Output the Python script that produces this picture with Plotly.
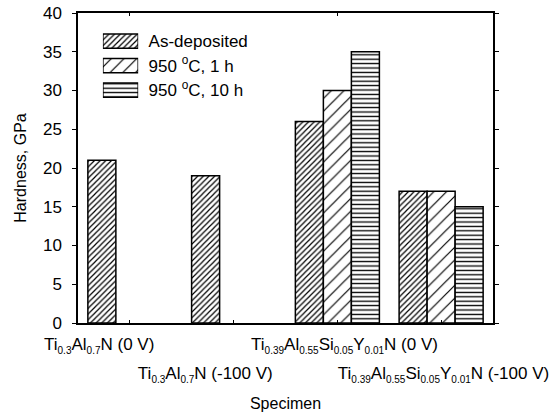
import plotly.graph_objects as go


def sub(s):
    """Small subscript used in the chemical formulas."""
    return f"<sub><span style='font-size:10px'>{s}</span></sub>"


NBSP = "&nbsp;"

# Specimens and hardness values (GPa)
specimens = [
    "Ti0.3Al0.7N (0 V)",
    "Ti0.3Al0.7N (-100 V)",
    "Ti0.39Al0.55Si0.05Y0.01N (0 V)",
    "Ti0.39Al0.55Si0.05Y0.01N (-100 V)",
]
tick_labels = [
    f"Ti{sub('0.3')}Al{sub('0.7')}N (0 V)",
    f"Ti{sub('0.3')}Al{sub('0.7')}N (-100 V)",
    f"Ti{sub('0.39')}Al{sub('0.55')}Si{sub('0.05')}Y{sub('0.01')}N (0 V)",
    f"Ti{sub('0.39')}Al{sub('0.55')}Si{sub('0.05')}Y{sub('0.01')}N (-100 V)",
]
# Padding (in spaces) that nudges each label off its tick: (leading, trailing)
label_pad = [(0, 13), (0, 12), (3, 0), (1, 0)]
series_names = ["As-deposited", "950 <sup>o</sup>C, 1 h", "950 <sup>o</sup>C, 10 h"]
as_deposited = [21, 19, 26, 17]
annealed_1h = [None, None, 30, 17]
annealed_10h = [None, None, 35, 15]
y_ticks = [0, 5, 10, 15, 20, 25, 30, 35, 40]

FONT = "Arial, Liberation Sans, sans-serif"
patterns = [
    dict(shape="/", size=4, solidity=0.3, fgcolor="black", fgopacity=1, bgcolor="white"),
    dict(shape="/", size=9, solidity=0.13, fgcolor="black", fgopacity=1, bgcolor="white"),
    dict(shape="-", size=4.4, solidity=0.3, fgcolor="black", fgopacity=1, bgcolor="white"),
]
series_values = [as_deposited, annealed_1h, annealed_10h]

padded_labels = [NBSP * a + t + NBSP * b for t, (a, b) in zip(tick_labels, label_pad)]

fig = go.Figure()
for name, vals, pat in zip(series_names, series_values, patterns):
    fig.add_trace(go.Bar(
        x=specimens, y=vals, name=name, showlegend=False,
        marker=dict(color="white", pattern=pat, line=dict(color="black", width=1.5)),
        xaxis="x", yaxis="y",
    ))

# Markerless trace so the second-row label axis gets drawn
fig.add_trace(go.Scatter(
    x=specimens, y=as_deposited, mode="none", showlegend=False,
    hoverinfo="skip", xaxis="x3", yaxis="y",
))

# Legend swatches drawn as a small horizontal-bar inset
for name, pat in zip(series_names, patterns):
    fig.add_trace(go.Bar(
        x=[1], y=[name], orientation="h", showlegend=False, width=0.58,
        marker=dict(color="white", pattern=pat, line=dict(color="black", width=1.5)),
        xaxis="x2", yaxis="y2", hoverinfo="skip",
    ))

# Specimen labels alternate between two rows below the axis
upper_row = specimens[0::2]
lower_row = specimens[1::2]

fig.update_layout(
    width=550, height=412,
    margin=dict(l=78, r=57, t=13, b=89, autoexpand=False),
    paper_bgcolor="white", plot_bgcolor="white",
    font=dict(family=FONT, size=16, color="black"),
    barmode="group", bargap=0.19, bargroupgap=0,
    xaxis=dict(
        domain=[0, 1], automargin=False, type="category",
        categoryorder="array", categoryarray=specimens,
        tickmode="array", tickvals=upper_row, ticktext=padded_labels[0::2],
        tickangle=0, ticklabelstandoff=5,
        showline=True, linecolor="black", linewidth=1.5, mirror="ticks",
        ticks="inside", ticklen=3, tickcolor="black",
        showgrid=False, zeroline=False,
        tickfont=dict(size=17),
    ),
    xaxis3=dict(
        overlaying="x", matches="x", anchor="y", side="bottom",
        automargin=False, type="category",
        categoryorder="array", categoryarray=specimens,
        tickmode="array", tickvals=lower_row, ticktext=padded_labels[1::2],
        tickangle=0, ticklabelstandoff=38,
        showline=False, ticks="inside", ticklen=3, tickcolor="black",
        showgrid=False, zeroline=False,
        title=dict(text="Specimen", font=dict(size=16), standoff=15),
        tickfont=dict(size=17),
    ),
    yaxis=dict(
        domain=[0, 1], automargin=False,
        range=[0, 40], tickvals=y_ticks,
        showline=True, linecolor="black", linewidth=1.5, mirror="ticks",
        ticks="outside", ticklen=4, tickcolor="black", ticklabelstandoff=7,
        showgrid=False, zeroline=False,
        title=dict(text="Hardness, GPa", font=dict(size=16), standoff=12),
        tickfont=dict(size=17),
    ),
    xaxis2=dict(
        domain=[0.060, 0.145], anchor="y2", range=[0, 1],
        visible=False, fixedrange=True,
    ),
    yaxis2=dict(
        domain=[0.712, 0.949], anchor="x2", automargin=False,
        categoryorder="array", categoryarray=series_names[::-1],
        tickmode="array", tickvals=series_names, ticktext=series_names,
        side="right", showline=False, showgrid=False, zeroline=False,
        ticks="outside", ticklen=6, tickcolor="rgba(0,0,0,0)",
        tickfont=dict(size=17), fixedrange=True,
    ),
)

fig.write_html("out.html")
